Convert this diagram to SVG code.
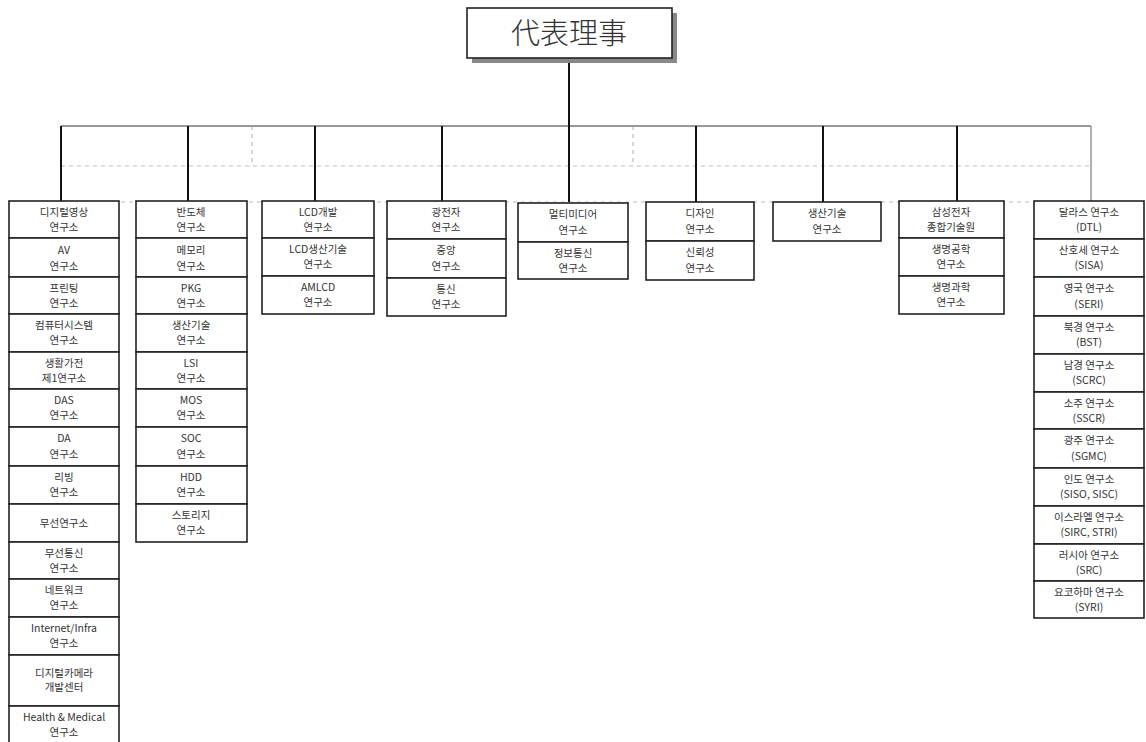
<svg xmlns="http://www.w3.org/2000/svg" width="1146" height="742" viewBox="0 0 1146 742">
<style>
.bx{fill:#fff;stroke:#222;stroke-width:1.6}
.t{font-family:"Noto Sans CJK KR","Liberation Sans",sans-serif;font-size:10.5px;fill:#333;text-anchor:middle}
.ttl{font-family:"Noto Sans CJK KR","Noto Sans CJK SC",sans-serif;font-size:29px;font-weight:300;fill:#333;text-anchor:middle}
.dash{fill:none;stroke:#bbb;stroke-width:1.2;stroke-dasharray:4 4}
.ln{fill:none;stroke:#111;stroke-width:2}
.gl{fill:none;stroke:#999;stroke-width:2}
</style>
<rect width="1146" height="742" fill="#fff"/>
<g id="connectors">
<line class="dash" x1="61" y1="166" x2="1091" y2="166"/>
<line class="dash" x1="252" y1="126" x2="252" y2="166"/>
<line class="dash" x1="633" y1="126" x2="633" y2="166"/>
<line class="dash" x1="9" y1="202" x2="1034" y2="202"/>
<line class="gl" x1="61" y1="126" x2="1091" y2="126"/>
<line class="ln" x1="569" y1="58" x2="569" y2="202"/>
<line class="ln" x1="61" y1="126" x2="61" y2="201"/>
<line class="ln" x1="188" y1="126" x2="188" y2="201"/>
<line class="ln" x1="315" y1="126" x2="315" y2="201"/>
<line class="ln" x1="442" y1="126" x2="442" y2="201"/>
<line class="ln" x1="696" y1="126" x2="696" y2="202"/>
<line class="ln" x1="823" y1="126" x2="823" y2="202"/>
<line class="ln" x1="957" y1="126" x2="957" y2="201"/>
<line fill="none" stroke="#999" stroke-width="1.5" x1="1091" y1="126" x2="1091" y2="201"/>
</g>
<g id="ceo">
<rect x="472" y="13" width="205" height="50" fill="#888"/>
<rect x="467" y="8" width="205" height="50" fill="#fff" stroke="#222" stroke-width="1.6"/>
<text class="ttl" x="569" y="44">代表理事</text>
</g>
<g id="col1">
<rect class="bx" x="9" y="201" width="110" height="37"/><text class="t" x="64" y="216">디지털영상</text><text class="t" x="64" y="231">연구소</text>
<rect class="bx" x="9" y="238" width="110" height="39"/><text class="t" x="64" y="254">AV</text><text class="t" x="64" y="270">연구소</text>
<rect class="bx" x="9" y="277" width="110" height="37"/><text class="t" x="64" y="292">프린팅</text><text class="t" x="64" y="307">연구소</text>
<rect class="bx" x="9" y="314" width="110" height="38"/><text class="t" x="64" y="329">컴퓨터시스템</text><text class="t" x="64" y="344">연구소</text>
<rect class="bx" x="9" y="352" width="110" height="37"/><text class="t" x="64" y="367">생활가전</text><text class="t" x="64" y="382">제1연구소</text>
<rect class="bx" x="9" y="389" width="110" height="38"/><text class="t" x="64" y="404">DAS</text><text class="t" x="64" y="419">연구소</text>
<rect class="bx" x="9" y="427" width="110" height="39"/><text class="t" x="64" y="442">DA</text><text class="t" x="64" y="458">연구소</text>
<rect class="bx" x="9" y="466" width="110" height="38"/><text class="t" x="64" y="481">리빙</text><text class="t" x="64" y="496">연구소</text>
<rect class="bx" x="9" y="504" width="110" height="38"/><text class="t" x="64" y="527">무선연구소</text>
<rect class="bx" x="9" y="542" width="110" height="37"/><text class="t" x="64" y="557">무선통신</text><text class="t" x="64" y="572">연구소</text>
<rect class="bx" x="9" y="579" width="110" height="38"/><text class="t" x="64" y="594">네트워크</text><text class="t" x="64" y="609">연구소</text>
<rect class="bx" x="9" y="617" width="110" height="38"/><text class="t" x="64" y="632">Internet/Infra</text><text class="t" x="64" y="647">연구소</text>
<rect class="bx" x="9" y="655" width="110" height="51"/><text class="t" x="64" y="677">디지털카메라</text><text class="t" x="64" y="691">개발센터</text>
<rect class="bx" x="9" y="706" width="110" height="40"/><text class="t" x="64" y="721">Health &amp; Medical</text><text class="t" x="64" y="736">연구소</text>
</g>
<g id="col2">
<rect class="bx" x="136" y="201" width="111" height="37"/><text class="t" x="191" y="216">반도체</text><text class="t" x="191" y="231">연구소</text>
<rect class="bx" x="136" y="238" width="111" height="39"/><text class="t" x="191" y="254">메모리</text><text class="t" x="191" y="270">연구소</text>
<rect class="bx" x="136" y="277" width="111" height="37"/><text class="t" x="191" y="292">PKG</text><text class="t" x="191" y="307">연구소</text>
<rect class="bx" x="136" y="314" width="111" height="38"/><text class="t" x="191" y="329">생산기술</text><text class="t" x="191" y="344">연구소</text>
<rect class="bx" x="136" y="352" width="111" height="37"/><text class="t" x="191" y="367">LSI</text><text class="t" x="191" y="382">연구소</text>
<rect class="bx" x="136" y="389" width="111" height="38"/><text class="t" x="191" y="404">MOS</text><text class="t" x="191" y="419">연구소</text>
<rect class="bx" x="136" y="427" width="111" height="39"/><text class="t" x="191" y="442">SOC</text><text class="t" x="191" y="458">연구소</text>
<rect class="bx" x="136" y="466" width="111" height="38"/><text class="t" x="191" y="481">HDD</text><text class="t" x="191" y="496">연구소</text>
<rect class="bx" x="136" y="504" width="111" height="38"/><text class="t" x="191" y="519">스토리지</text><text class="t" x="191" y="534">연구소</text>
</g>
<g id="col3">
<rect class="bx" x="262" y="201" width="112" height="37"/><text class="t" x="318" y="216">LCD개발</text><text class="t" x="318" y="231">연구소</text>
<rect class="bx" x="262" y="238" width="112" height="38"/><text class="t" x="318" y="253">LCD생산기술</text><text class="t" x="318" y="268">연구소</text>
<rect class="bx" x="262" y="276" width="112" height="38"/><text class="t" x="318" y="291">AMLCD</text><text class="t" x="318" y="306">연구소</text>
</g>
<g id="col4">
<rect class="bx" x="387" y="201" width="119" height="38"/><text class="t" x="446" y="216">광전자</text><text class="t" x="446" y="231">연구소</text>
<rect class="bx" x="387" y="239" width="119" height="39"/><text class="t" x="446" y="254">중앙</text><text class="t" x="446" y="270">연구소</text>
<rect class="bx" x="387" y="278" width="119" height="38"/><text class="t" x="446" y="293">통신</text><text class="t" x="446" y="308">연구소</text>
</g>
<g id="col5">
<rect class="bx" x="518" y="203" width="110" height="39"/><text class="t" x="573" y="218">멀티미디어</text><text class="t" x="573" y="234">연구소</text>
<rect class="bx" x="518" y="242" width="110" height="37"/><text class="t" x="573" y="257">정보통신</text><text class="t" x="573" y="272">연구소</text>
</g>
<g id="col6">
<rect class="bx" x="646" y="202" width="108" height="39"/><text class="t" x="700" y="217">디자인</text><text class="t" x="700" y="233">연구소</text>
<rect class="bx" x="646" y="241" width="108" height="39"/><text class="t" x="700" y="256">신뢰성</text><text class="t" x="700" y="272">연구소</text>
</g>
<g id="col7">
<rect class="bx" x="773" y="202" width="108" height="39"/><text class="t" x="827" y="217">생산기술</text><text class="t" x="827" y="233">연구소</text>
</g>
<g id="col8">
<rect class="bx" x="899" y="201" width="105" height="37"/><text class="t" x="951" y="216">삼성전자</text><text class="t" x="951" y="231">종합기술원</text>
<rect class="bx" x="899" y="238" width="105" height="38"/><text class="t" x="951" y="253">생명공학</text><text class="t" x="951" y="268">연구소</text>
<rect class="bx" x="899" y="276" width="105" height="38"/><text class="t" x="951" y="291">생명과학</text><text class="t" x="951" y="306">연구소</text>
</g>
<g id="col9">
<rect class="bx" x="1034" y="201" width="110" height="38"/><text class="t" x="1089" y="216">달라스 연구소</text><text class="t" x="1089" y="231">(DTL)</text>
<rect class="bx" x="1034" y="239" width="110" height="38"/><text class="t" x="1089" y="254">산호세 연구소</text><text class="t" x="1089" y="269">(SISA)</text>
<rect class="bx" x="1034" y="277" width="110" height="39"/><text class="t" x="1089" y="292">영국 연구소</text><text class="t" x="1089" y="308">(SERI)</text>
<rect class="bx" x="1034" y="316" width="110" height="38"/><text class="t" x="1089" y="331">북경 연구소</text><text class="t" x="1089" y="346">(BST)</text>
<rect class="bx" x="1034" y="354" width="110" height="38"/><text class="t" x="1089" y="369">남경 연구소</text><text class="t" x="1089" y="384">(SCRC)</text>
<rect class="bx" x="1034" y="392" width="110" height="37"/><text class="t" x="1089" y="407">소주 연구소</text><text class="t" x="1089" y="422">(SSCR)</text>
<rect class="bx" x="1034" y="429" width="110" height="39"/><text class="t" x="1089" y="444">광주 연구소</text><text class="t" x="1089" y="460">(SGMC)</text>
<rect class="bx" x="1034" y="468" width="110" height="38"/><text class="t" x="1089" y="483">인도 연구소</text><text class="t" x="1089" y="498">(SISO, SISC)</text>
<rect class="bx" x="1034" y="506" width="110" height="38"/><text class="t" x="1089" y="521">이스라엘 연구소</text><text class="t" x="1089" y="536">(SIRC, STRI)</text>
<rect class="bx" x="1034" y="544" width="110" height="37"/><text class="t" x="1089" y="559">러시아 연구소</text><text class="t" x="1089" y="574">(SRC)</text>
<rect class="bx" x="1034" y="581" width="110" height="37"/><text class="t" x="1089" y="596">요코하마 연구소</text><text class="t" x="1089" y="611">(SYRI)</text>
</g>
</svg>
